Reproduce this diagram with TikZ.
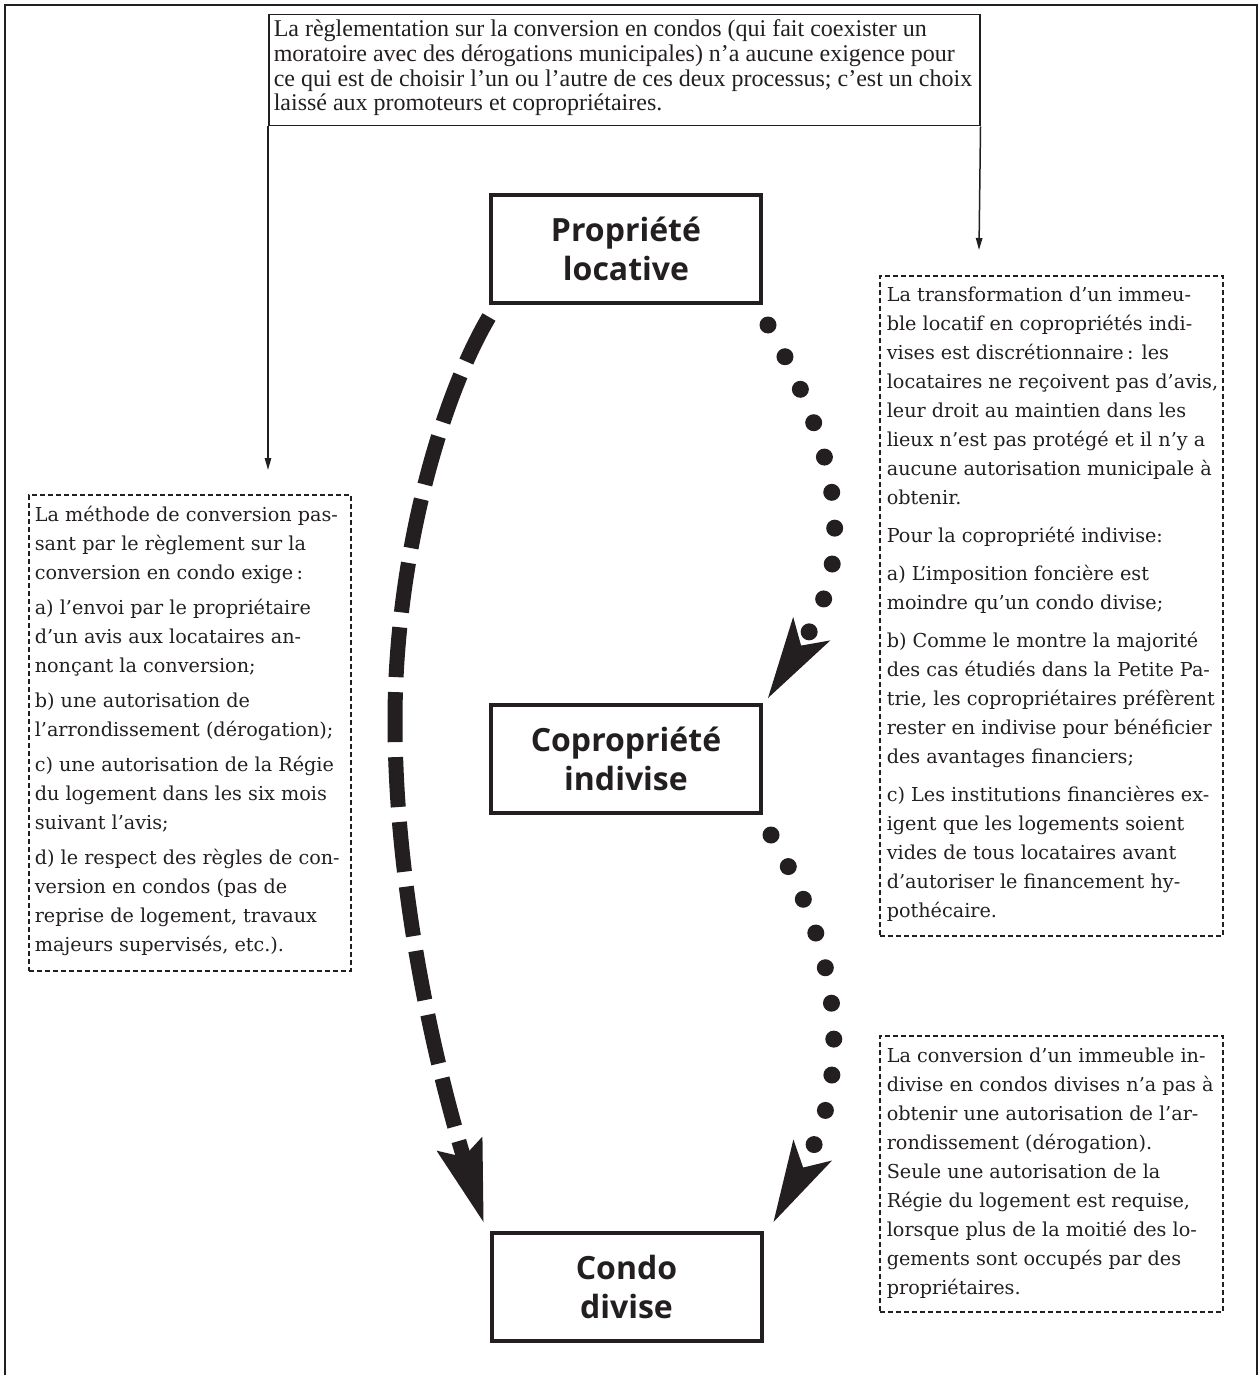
\documentclass[tikz,border=0pt]{standalone}
\usepackage{fontspec}
\usetikzlibrary{arrows.meta}
\newfontfamily\labelfont{Open Sans}
\newfontfamily\bodyfont{DejaVu Serif}
\newfontfamily\topfont{Liberation Serif}
\definecolor{ink}{HTML}{231F20}
\tikzset{
  stagebox/.style={draw=ink, line width=2pt, minimum width=135pt, minimum height=54pt,
    align=center, text=ink, font=\labelfont\bfseries\fontsize{16pt}{19.5pt}\selectfont},
  notebox/.style={draw=ink, line width=0.8pt, dash pattern=on 2.6pt off 1.4pt, anchor=north west, text=ink},
  topbox/.style={draw=ink, line width=0.75pt, anchor=north west, text=ink, inner xsep=2.5pt, inner ysep=2.3pt},
  thinarrow/.style={draw=ink, line width=0.75pt, -{Triangle[length=6pt,width=3.2pt]}},
  bigdash/.style={draw=ink, line width=7.5pt, dash pattern=on 25pt off 7.5pt,
    -{Stealth[length=41pt,width=24pt,inset=7pt,line width=0pt]}},
  dotline/.style={draw=ink, line width=8.5pt, line cap=round, dash pattern=on 0pt off 18pt,
    -{Stealth[length=41pt,width=22pt,inset=10pt,line width=0pt]}},
}
\newcommand{\bodytext}{\bodyfont\fontsize{9.6pt}{14.5pt}\selectfont}
\begin{document}
\begin{tikzpicture}[x=0.5pt,y=-0.5pt]
\useasboundingbox (0,0) rectangle (1259,1375);
% outer frame (bottom edge lies outside the picture)
\draw[ink, line width=1pt] (5,1375) -- (5,5) -- (1257,5) -- (1257,1375);

% top explanation box
\node[topbox] (top) at (268,14) {\parbox[t][50.9pt][t]{350.5pt}{\noindent\topfont\fontsize{12pt}{12.35pt}\selectfont
\begin{tabular}[t]{@{}l@{}}
La règlementation sur la conversion en condos (qui fait coexister un\\
moratoire avec des dérogations municipales) n’a aucune exigence pour\\
ce qui est de choisir l’un ou l’autre de ces deux processus; c’est un choix\\
laissé aux promoteurs et copropriétaires.
\end{tabular}}};

% stage boxes
\node[stagebox] (prop) at (626,249) {Propriété\\locative};
\node[stagebox] (copro) at (626,759) {Copropriété\\indivise};
\node[stagebox] (condo) at (626.5,1287) {Condo\\divise};

% left note
\node[notebox, inner xsep=3pt, inner ysep=3pt] (lbox) at (28,494) {\parbox[t][232pt][t]{155pt}{\noindent\bodytext
\begin{tabular}[t]{@{}l@{}}
La méthode de conversion pas-\\
sant par le règlement sur la\\
conversion en condo exige\,:\\[3pt]
a) l’envoi par le propriétaire\\
d’un avis aux locataires an-\\
nonçant la conversion;\\[3pt]
b) une autorisation de\\
l’arrondissement (dérogation);\\[3pt]
c) une autorisation de la Régie\\
du logement dans les six mois\\
suivant l’avis;\\[3pt]
d) le respect des règles de con-\\
version en condos (pas de\\
reprise de logement, travaux\\
majeurs supervisés, etc.).
\end{tabular}}};

% right note 1
\node[notebox, inner xsep=3.5pt, inner ysep=2.5pt] (rbox1) at (879,275) {\parbox[t][325pt][t]{164.5pt}{\noindent\bodytext
\begin{tabular}[t]{@{}l@{}}
La transformation d’un immeu-\\
ble locatif en copropriétés indi-\\
vises est discrétionnaire\,: les\\
locataires ne reçoivent pas d’avis,\\
leur droit au maintien dans les\\
lieux n’est pas protégé et il n’y a\\
aucune autorisation municipale à\\
obtenir.\\[4.6pt]
Pour la copropriété indivise:\\[4.6pt]
a) L’imposition foncière est\\
moindre qu’un condo divise;\\[4.6pt]
b) Comme le montre la majorité\\
des cas étudiés dans la Petite Pa-\\
trie, les copropriétaires préfèrent\\
rester en indivise pour bénéficier\\
des avantages financiers;\\[4.6pt]
c) Les institutions financières ex-\\
igent que les logements soient\\
vides de tous locataires avant\\
d’autoriser le financement hy-\\
pothécaire.
\end{tabular}}};

% right note 2
\node[notebox, inner xsep=3.5pt, inner ysep=3.35pt] (rbox2) at (879,1035) {\parbox[t][131.3pt][t]{164.5pt}{\noindent\bodytext
\begin{tabular}[t]{@{}l@{}}
La conversion d’un immeuble in-\\
divise en condos divises n’a pas à\\
obtenir une autorisation de l’ar-\\
rondissement (dérogation).\\
Seule une autorisation de la\\
Régie du logement est requise,\\
lorsque plus de la moitié des lo-\\
gements sont occupés par des\\
propriétaires.
\end{tabular}}};

% thin connectors from the top box
\coordinate (la) at (268,470);
\coordinate (ra) at (979,250);
\draw[thinarrow] (top.south west) -- (la);
\draw[thinarrow] (top.south east) -- (ra);

% dashed path: Propriété locative -> Condo divise
\draw[bigdash] ([shift={(0,12)}]prop.south west) .. controls (440,400) and (395,560) .. (395,720)
  .. controls (395,900) and (440,1080) .. ([shift={(-6,-9)}]condo.north west);

% dotted paths
\draw[dotline] ([shift={(5,20)}]prop.south east) .. controls (857,483) and (845,576) .. ([shift={(5,-5)}]copro.north east);
\draw[dotline] ([shift={(8,20)}]copro.south east) .. controls (850,969) and (847,1087) .. ([shift={(10,-9)}]condo.north east);
\end{tikzpicture}
\end{document}
